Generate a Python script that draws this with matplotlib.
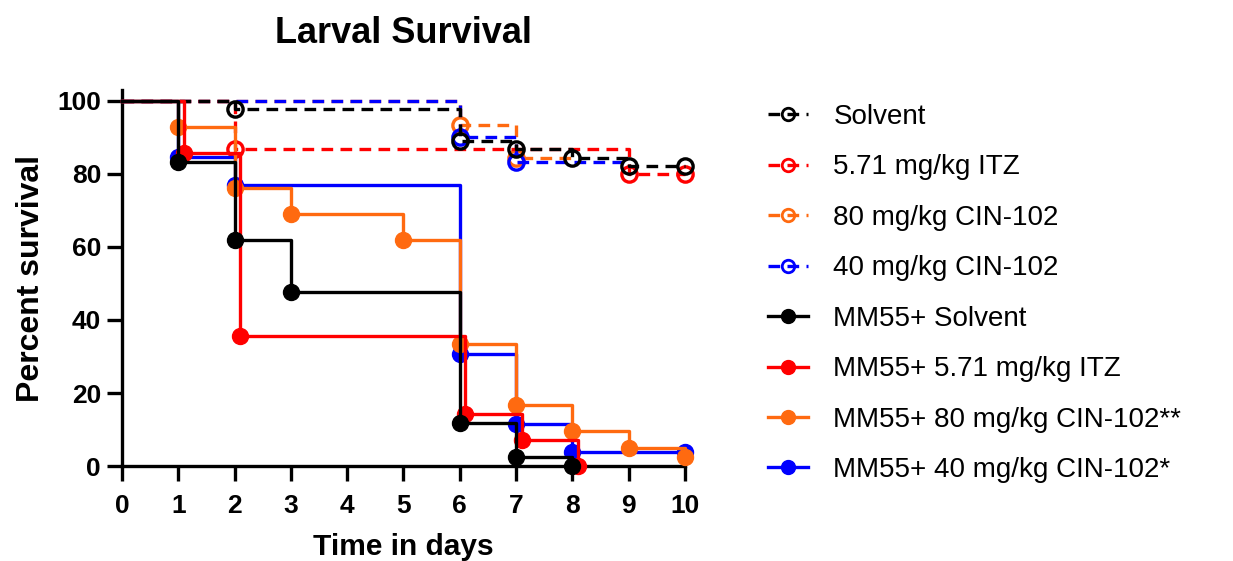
import matplotlib.pyplot as plt

plt.rcParams['font.family'] = ['Liberation Sans', 'DejaVu Sans']

# survival curves: event times (days) and percent surviving after each event
labels = ["Solvent", "5.71 mg/kg ITZ", "80 mg/kg CIN-102", "40 mg/kg CIN-102",
          "MM55+ Solvent", "MM55+ 5.71 mg/kg ITZ", "MM55+ 80 mg/kg CIN-102**",
          "MM55+ 40 mg/kg CIN-102*"]

solvent_t = [0, 2, 6, 7, 8, 9, 10]
solvent_s = [100, 97.8, 88.9, 86.7, 84.4, 82.2, 82.2]
itz_t = [0, 2, 9, 10]
itz_s = [100, 86.7, 80.0, 80.0]
cin80_t = [0, 6, 7, 8]
cin80_s = [100, 93.3, 84.4, 84.4]
cin40_t = [0, 6, 7, 9]
cin40_s = [100, 90.0, 83.3, 83.3]

mm_solvent_t = [0, 1, 2, 3, 6, 7, 8]
mm_solvent_s = [100, 83.3, 61.9, 47.6, 11.9, 2.4, 0]
mm_itz_t = [0, 1.1, 2.1, 6.1, 7.1, 8.1]
mm_itz_s = [100, 85.7, 35.7, 14.3, 7.1, 0]
mm_cin80_t = [0, 1, 2, 3, 5, 6, 7, 8, 9, 10]
mm_cin80_s = [100, 92.9, 76.2, 69.0, 61.9, 33.3, 16.7, 9.5, 4.8, 2.4]
mm_cin40_t = [0, 1, 2, 6, 7, 8, 10]
mm_cin40_s = [100, 84.6, 76.9, 30.8, 11.5, 3.8, 3.8]

times = [solvent_t, itz_t, cin80_t, cin40_t, mm_solvent_t, mm_itz_t, mm_cin80_t, mm_cin40_t]
survs = [solvent_s, itz_s, cin80_s, cin40_s, mm_solvent_s, mm_itz_s, mm_cin80_s, mm_cin40_s]
colors = ['#000000', '#FF0000', '#FF6A10', '#0000FF'] * 2
dashed = [True] * 4 + [False] * 4
zorders = [14, 13, 11, 12, 24, 23, 22, 21]

fig = plt.figure(figsize=(12.33, 5.61), dpi=100)
ax = fig.add_axes([0.0989, 0.1693, 0.4566, 0.6703])

for i, (t, s) in enumerate(zip(times, survs)):
    c = colors[i]
    z = zorders[i]
    ls = (0, (3.5, 2.2)) if dashed[i] else '-'
    ax.step(t, s, where='post', color=c, linewidth=2.4, linestyle=ls, zorder=z, clip_on=False)
    # markers at each drop and at the end of follow-up
    mx = [t[k] for k in range(1, len(t)) if s[k] < s[k - 1] or t[k] == 10]
    my = [s[k] for k in range(1, len(t)) if s[k] < s[k - 1] or t[k] == 10]
    if dashed[i]:
        ax.plot(mx, my, 'o', ms=11, mfc='none', mec=c, mew=2.4, zorder=z, clip_on=False)
    else:
        ax.plot(mx, my, 'o', ms=11.5, color=c, zorder=z, clip_on=False)
    # legend proxy
    if dashed[i]:
        ax.plot([], [], color=c, linewidth=2.4, linestyle=ls, marker='o', ms=9,
                mfc='none', mec=c, mew=2, label=labels[i])
    else:
        ax.plot([], [], color=c, linewidth=2.4, marker='o', ms=10, label=labels[i])

ax.set_xlim(0, 10)
ax.set_ylim(0, 103)
ax.set_xticks(range(0, 11))
ax.set_yticks(range(0, 101, 20))
for side in ['top', 'right']:
    ax.spines[side].set_visible(False)
for side in ['left', 'bottom']:
    ax.spines[side].set_linewidth(2.4)
ax.tick_params(direction='out', length=11, width=2.4)
ax.tick_params(axis='x', labelsize=19, pad=9)
ax.tick_params(axis='y', labelsize=19, pad=4)
for lab in ax.get_xticklabels() + ax.get_yticklabels():
    lab.set_fontweight('bold')

ax.set_xlabel('Time in days', fontsize=21.5, fontweight='bold', labelpad=11)
ax.set_ylabel('Percent survival', fontsize=23, fontweight='bold', labelpad=8)
fig.text(0.327, 0.94, 'Larval Survival', fontsize=26, fontweight='bold', ha='center', va='center')

ax.legend(loc='upper left', bbox_to_anchor=(768 / 1233, 1 - 104 / 561),
          bbox_transform=fig.transFigure, frameon=False, fontsize=20,
          handlelength=1.45, handletextpad=0.9, labelspacing=0.88,
          borderpad=0, borderaxespad=0)

fig.savefig('out.png', dpi=100)
